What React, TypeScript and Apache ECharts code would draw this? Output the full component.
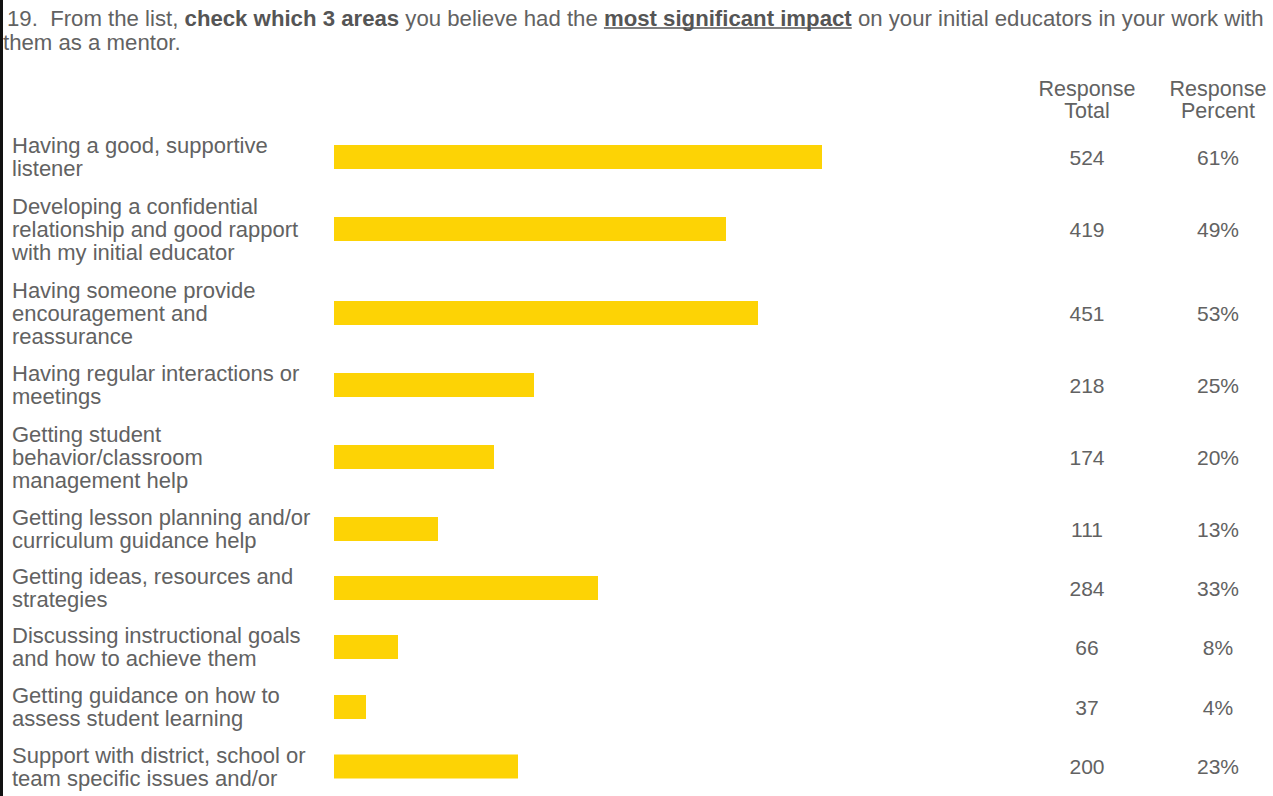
import React, { useEffect, useRef } from "react";
import * as echarts from "echarts";

const categories = [
  "Having a good, supportive\nlistener",
  "Developing a confidential\nrelationship and good rapport\nwith my initial educator",
  "Having someone provide\nencouragement and\nreassurance",
  "Having regular interactions or\nmeetings",
  "Getting student\nbehavior/classroom\nmanagement help",
  "Getting lesson planning and/or\ncurriculum guidance help",
  "Getting ideas, resources and\nstrategies",
  "Discussing instructional goals\nand how to achieve them",
  "Getting guidance on how to\nassess student learning",
  "Support with district, school or\nteam specific issues and/or",
];
const responseTotals = [524, 419, 451, 218, 174, 111, 284, 66, 37, 200];
const responsePercents = [61, 49, 53, 25, 20, 13, 33, 8, 4, 23];
const columnHeaders = [
  ["Response", "Total"],
  ["Response", "Percent"],
];
const titleLine1Parts = [
  { t: "19.  From the list, ", s: "n" },
  { t: "check which 3 areas", s: "b" },
  { t: " you believe had the ", s: "n" },
  { t: "most significant impact", s: "b" },
  { t: " on your initial educators in your work with", s: "n" },
];
const titleLine2 = "them as a mentor.";

const FONT = '"Liberation Sans", Arial, Helvetica, sans-serif';
const TEXT = "#626262";
const BAR = "#FDD305";

export default function App() {
  const ref = useRef<HTMLDivElement>(null);

  useEffect(() => {
    if (!ref.current) return;
    const chart = echarts.init(ref.current, null, { renderer: "svg" });

    const titleSize = 22.2;
    const labelSize = 22;
    const valueSize = 21;
    const headerSize = 21.5;

    const canvas = document.createElement("canvas");
    const ctx = canvas.getContext("2d")!;
    const measure = (t: string, bold: boolean) => {
      ctx.font = `${bold ? "bold " : ""}${titleSize}px ${FONT}`;
      return ctx.measureText(t).width;
    };
    const titleX = 7;
    let ux = titleX;
    let uw = 0;
    for (let k = 0; k < titleLine1Parts.length; k++) {
      const p = titleLine1Parts[k];
      const w = measure(p.t, p.s === "b");
      if (k === 3) {
        uw = w;
        break;
      }
      ux += w;
    }

    const rowHeights = [60, 84, 84, 60, 84, 60, 58, 60, 60, 70];
    const firstTop = 127;
    const gridLeft = 334;
    const gridWidth = 800;

    const grids: any[] = [];
    const xAxes: any[] = [];
    const yAxes: any[] = [];
    const series: any[] = [];
    let top = firstTop;
    const baseLabel = {
      fontFamily: FONT,
      color: TEXT,
    };
    categories.forEach((cat, i) => {
      grids.push({ left: gridLeft, width: gridWidth, top, height: rowHeights[i] });
      top += rowHeights[i];
      xAxes.push({
        gridIndex: i,
        type: "value",
        min: 0,
        max: 100,
        show: false,
      });
      const yBase = {
        gridIndex: i,
        type: "category",
        axisLine: { show: false },
        axisTick: { show: false },
        splitLine: { show: false },
      };
      yAxes.push({
        ...yBase,
        data: [cat],
        position: "left",
        axisLabel: {
          ...baseLabel,
          fontSize: labelSize,
          lineHeight: 23,
          align: "left",
          margin: gridLeft - 12,
        },
      });
      yAxes.push({
        ...yBase,
        data: [String(responseTotals[i])],
        position: "right",
        offset: -47,
        axisLabel: { ...baseLabel, fontSize: valueSize, align: "center", margin: 0 },
      });
      yAxes.push({
        ...yBase,
        data: [responsePercents[i] + "%"],
        position: "right",
        offset: 84,
        axisLabel: { ...baseLabel, fontSize: valueSize, align: "center", margin: 0 },
      });
      series.push({
        type: "bar",
        xAxisIndex: i,
        yAxisIndex: i * 3,
        data: [responsePercents[i]],
        barWidth: 24,
        itemStyle: { color: BAR },
        silent: true,
      });
    });

    const richText = titleLine1Parts.map((p) => `{${p.s}|${p.t}}`).join("");

    const headerTexts: any[] = [];
    const headerX = [1087, 1218];
    const headerY = [89, 111];
    columnHeaders.forEach((lines, c) => {
      lines.forEach((line, r) => {
        headerTexts.push({
          type: "text",
          x: headerX[c],
          y: headerY[r],
          style: {
            text: line,
            align: "center",
            verticalAlign: "middle",
            fontFamily: FONT,
            fontSize: headerSize,
            fill: TEXT,
          },
        });
      });
    });

    chart.setOption({
      animation: false,
      backgroundColor: "#ffffff",
      grid: grids,
      xAxis: xAxes,
      yAxis: yAxes,
      series,
      graphic: [
        { type: "rect", shape: { x: 0, y: 0, width: 3, height: 796 }, style: { fill: "#111" } },
        {
          type: "text",
          x: titleX,
          y: 18,
          style: {
            text: richText,
            verticalAlign: "middle",
            fontFamily: FONT,
            fontSize: titleSize,
            fill: TEXT,
            rich: {
              n: { fontFamily: FONT, fontSize: titleSize, fill: TEXT },
              b: { fontFamily: FONT, fontSize: titleSize, fill: "#555", fontWeight: "bold" },
            },
          },
        },
        {
          type: "line",
          shape: { x1: ux, y1: 28, x2: ux + uw, y2: 28 },
          style: { stroke: "#555", lineWidth: 1.5 },
        },
        {
          type: "text",
          x: 3,
          y: 42,
          style: {
            text: titleLine2,
            verticalAlign: "middle",
            fontFamily: FONT,
            fontSize: titleSize,
            fill: TEXT,
          },
        },
        ...headerTexts,
      ],
    });

    return () => chart.dispose();
  }, []);

  return (
    <div
      ref={ref}
      style={{ position: "fixed", left: 0, top: 0, width: 1273, height: 796, background: "#fff" }}
    />
  );
}
